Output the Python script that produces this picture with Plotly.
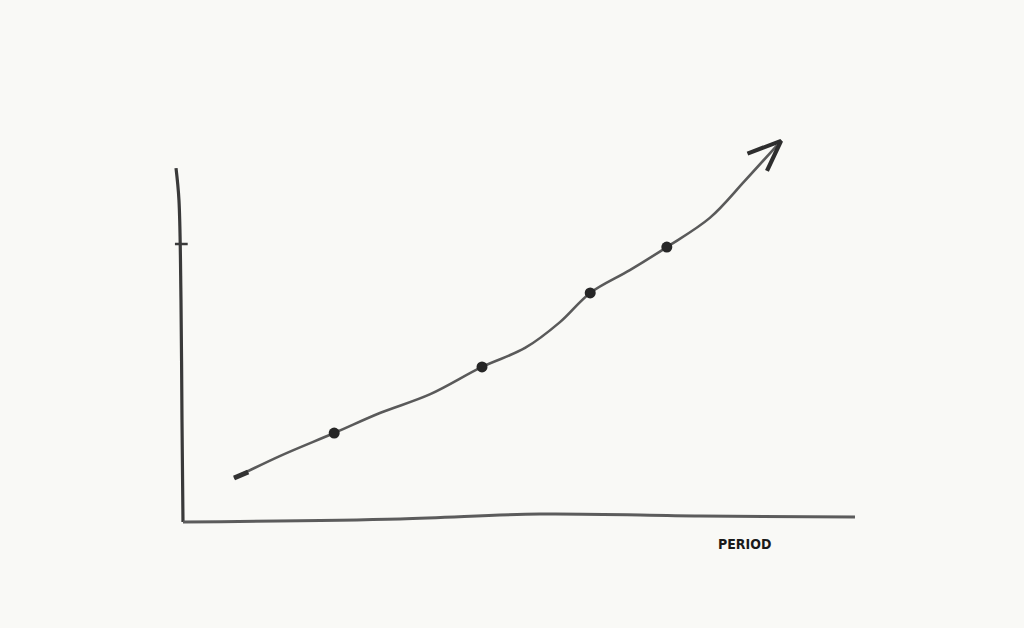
import plotly.graph_objects as go

# Data (period units on x, value units on y)
line_x = [0.76, 1.44, 2.25, 2.93, 3.68, 4.45, 5.09, 5.61, 6.06, 6.65, 7.20, 7.84, 8.36, 8.84]
line_y = [15.8, 23.7, 32.0, 39.2, 46.0, 55.8, 62.6, 71.9, 82.4, 90.6, 98.9, 109.4, 122.7, 135.5]
point_x = [2.25, 4.45, 6.06, 7.20]
point_y = [32.0, 55.8, 82.4, 98.9]
start_x = [0.76, 0.97]
start_y = [15.8, 18.0]
arrow_x = [8.40, 8.90, 8.69]
arrow_y = [132.5, 137.1, 126.3]
xaxis_x = [0, 3.23, 5.31, 7.69, 10.0]
xaxis_y = [0, 1.08, 2.88, 2.16, 1.8]
yaxis_x = [-0.104, -0.06, -0.03, -0.015, 0]
yaxis_y = [127.3, 115.8, 79.9, 36.7, 0]
tick_x = [-0.12, 0.07]
tick_y = [100, 100]
xlabel = "PERIOD"

INK = "#3a3a3a"
fig = go.Figure()
fig.add_trace(go.Scatter(x=yaxis_x, y=yaxis_y, mode="lines", line=dict(color=INK, width=3.2, shape="spline"), hoverinfo="skip"))
fig.add_trace(go.Scatter(x=xaxis_x, y=xaxis_y, mode="lines", line=dict(color="#5c5c5c", width=3, shape="spline"), hoverinfo="skip"))
fig.add_trace(go.Scatter(x=tick_x, y=tick_y, mode="lines", line=dict(color=INK, width=2.5), hoverinfo="skip"))
fig.add_trace(go.Scatter(x=line_x, y=line_y, mode="lines", line=dict(color="#5a5a5a", width=2.6, shape="spline"), hoverinfo="skip"))
fig.add_trace(go.Scatter(x=start_x, y=start_y, mode="lines", line=dict(color="#333", width=5), hoverinfo="skip"))
fig.add_trace(go.Scatter(x=arrow_x, y=arrow_y, mode="lines", line=dict(color="#2e2e2e", width=4.2), hoverinfo="skip"))
fig.add_trace(go.Scatter(x=point_x, y=point_y, mode="markers", marker=dict(color="#262626", size=11), hoverinfo="skip"))

fig.add_annotation(x=8.36, y=-8.0, text="<b>" + xlabel + "</b>", showarrow=False,
                   font=dict(family="DejaVu Sans Condensed, DejaVu Sans", size=14, color="#1a1a1a"))

fig.update_layout(
    width=1024, height=628,
    paper_bgcolor="#f9f9f6", plot_bgcolor="#f9f9f6",
    margin=dict(l=150, r=100, t=100, b=80),
    showlegend=False,
    xaxis=dict(range=[-0.491, 11.027], visible=False, fixedrange=True),
    yaxis=dict(range=[-9.35, 151.8], visible=False, fixedrange=True),
)
fig.write_html("out.html", config={"displayModeBar": False},
               post_script="document.body.style.margin='0';document.body.style.background='#f9f9f6';")
